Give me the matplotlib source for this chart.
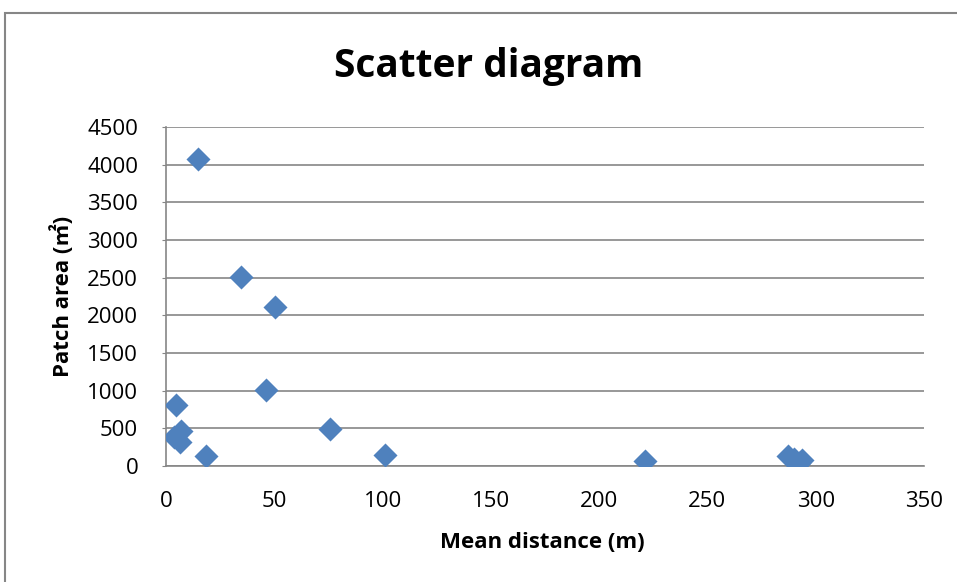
import matplotlib
matplotlib.use("Agg")
import matplotlib.pyplot as plt
from matplotlib.patches import Rectangle

mean_distance = [14.8, 34.6, 50.3, 46.2, 75.7, 101, 221, 4.6, 6.8, 3.7, 6.5, 18.3, 287, 290, 293.5, 292.5]
patch_area = [4080, 2510, 2110, 1010, 490, 150, 65, 810, 470, 390, 320, 135, 135, 95, 75, 40]
y_ticks = [0, 500, 1000, 1500, 2000, 2500, 3000, 3500, 4000, 4500]
x_ticks = [0, 50, 100, 150, 200, 250, 300, 350]

fam = ['Open Sans', 'Noto Sans CJK SC', 'DejaVu Sans']
plt.rcParams['font.family'] = fam

W, H = 957, 582
fig = plt.figure(figsize=(W/100, H/100), dpi=100)
ax = fig.add_axes([166/W, 1-466/H, (924-166)/W, (466-127)/H])

fig.patches.append(Rectangle((5/W, -0.05), 1, 1.05-13/H, transform=fig.transFigure,
                             fill=False, edgecolor='#868686', linewidth=1.5))

ax.scatter(mean_distance, patch_area, marker='D', s=150, color='#4F81BD', zorder=3, linewidths=0)

ax.set_xlim(0, 350)
ax.set_ylim(0, 4500)
ax.set_xticks(x_ticks)
ax.set_yticks(y_ticks)
ax.yaxis.grid(True, color='#868686', linewidth=1.2)
ax.set_axisbelow(True)
for s in ['top', 'right']:
    ax.spines[s].set_visible(False)
for s in ['left', 'bottom']:
    ax.spines[s].set_color('#868686')
    ax.spines[s].set_linewidth(1.2)
ax.tick_params(axis='y', length=3, color='#868686', labelsize=16, pad=17)
ax.tick_params(axis='x', length=0, labelsize=16, pad=18)

fig.text(489/W, 1-77/H, 'Scatter diagram', fontsize=28, fontweight='bold',
         ha='center', va='baseline')
ax.set_xlabel('Mean distance (m)', fontsize=16, fontweight='bold')
ax.xaxis.set_label_coords((542-166)/758, (466-543)/339)
ax.xaxis.label.set_va('center')
ax.set_ylabel('Patch area (㎡)', fontsize=16, fontweight='bold')
ax.yaxis.set_label_coords((62-166)/758, 0.5)
ax.yaxis.label.set_va('center')

fig.savefig('out.png', dpi=100)
